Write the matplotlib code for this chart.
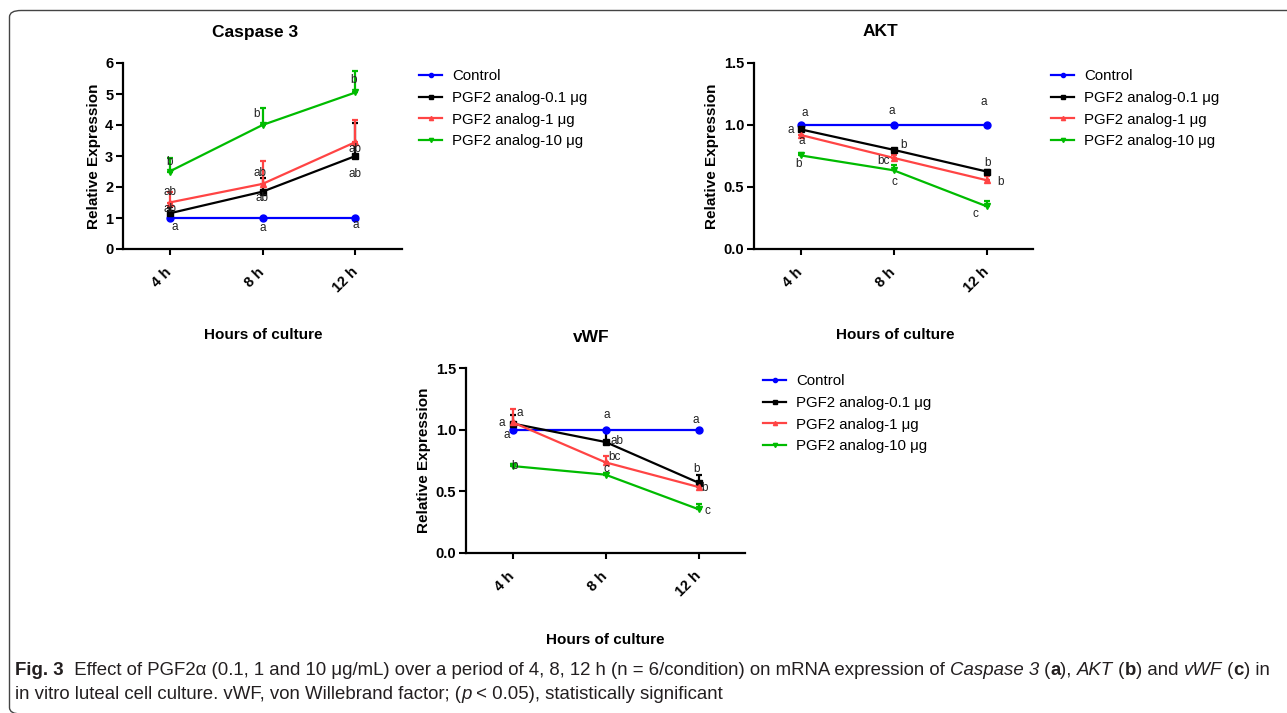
import matplotlib
matplotlib.use("Agg")
import matplotlib.pyplot as plt
from matplotlib.patches import FancyBboxPatch
from matplotlib.lines import Line2D

plt.rcParams['font.family'] = ['Liberation Sans', 'DejaVu Sans']

# ---------------- data ----------------
times = ['4 h', '8 h', '12 h']
series_names = ['Control', 'PGF2 analog-0.1 μg', 'PGF2 analog-1 μg', 'PGF2 analog-10 μg']

casp_ctrl = [1.0, 1.0, 1.0]
casp_01 = [1.15, 1.85, 3.0]
casp_1 = [1.5, 2.1, 3.45]
casp_10 = [2.5, 4.0, 5.05]
casp_ctrl_err = [0.0, 0.0, 0.0]
casp_01_err = [0.2, 0.45, 1.05]
casp_1_err = [0.35, 0.75, 0.7]
casp_10_err = [0.45, 0.55, 0.7]

akt_ctrl = [1.0, 1.0, 1.0]
akt_01 = [0.965, 0.80, 0.625]
akt_1 = [0.92, 0.735, 0.555]
akt_10 = [0.755, 0.635, 0.345]
akt_ctrl_err = [0.0, 0.0, 0.0]
akt_01_err = [0.035, 0.01, 0.015]
akt_1_err = [0.055, 0.025, 0.03]
akt_10_err = [0.02, 0.045, 0.04]

vwf_ctrl = [1.0, 1.0, 1.0]
vwf_01 = [1.05, 0.90, 0.57]
vwf_1 = [1.06, 0.735, 0.535]
vwf_10 = [0.705, 0.635, 0.355]
vwf_ctrl_err = [0.0, 0.0, 0.0]
vwf_01_err = [0.07, 0.09, 0.065]
vwf_1_err = [0.11, 0.055, 0.025]
vwf_10_err = [0.015, 0.015, 0.04]

# significance letters: (label, x position in category units, y value)
casp_letters = [('a', 0.06, 0.72), ('a', 1.0, 0.68), ('a', 2.0, 0.77),
                ('ab', 0.0, 1.29), ('ab', 0.0, 1.84), ('b', 0.0, 2.8),
                ('ab', 1.0, 1.65), ('ab', 0.97, 2.45), ('b', 0.94, 4.35),
                ('ab', 2.0, 2.42), ('ab', 2.0, 3.22), ('b', 1.98, 5.45)]
akt_letters = [('a', 0.05, 1.10), ('a', -0.11, 0.96), ('a', 0.01, 0.87), ('b', -0.02, 0.685),
               ('a', 0.98, 1.11), ('b', 1.11, 0.84), ('bc', 0.89, 0.71), ('c', 1.01, 0.54),
               ('a', 1.97, 1.185), ('b', 2.01, 0.695), ('b', 2.15, 0.54), ('c', 1.88, 0.28)]
vwf_letters = [('a', 0.08, 1.135), ('a', -0.12, 1.05), ('a', -0.06, 0.96), ('b', 0.02, 0.705),
               ('a', 1.01, 1.12), ('ab', 1.12, 0.91), ('bc', 1.1, 0.78), ('c', 1.01, 0.68),
               ('a', 1.97, 1.08), ('b', 1.98, 0.68), ('b', 2.07, 0.53), ('c', 2.1, 0.34)]

panels = [
    dict(title='Caspase 3', vals=[casp_ctrl, casp_01, casp_1, casp_10],
         errs=[casp_ctrl_err, casp_01_err, casp_1_err, casp_10_err],
         letters=casp_letters, ylim=(0, 6), yticks=[0, 1, 2, 3, 4, 5, 6], fmt='{:.0f}'),
    dict(title='AKT', vals=[akt_ctrl, akt_01, akt_1, akt_10],
         errs=[akt_ctrl_err, akt_01_err, akt_1_err, akt_10_err],
         letters=akt_letters, ylim=(0, 1.5), yticks=[0, 0.5, 1.0, 1.5], fmt='{:.1f}'),
    dict(title='vWF', vals=[vwf_ctrl, vwf_01, vwf_1, vwf_10],
         errs=[vwf_ctrl_err, vwf_01_err, vwf_1_err, vwf_10_err],
         letters=vwf_letters, ylim=(0, 1.5), yticks=[0, 0.5, 1.0, 1.5], fmt='{:.1f}'),
]

caption_line1 = [('Fig. 3', 'bold'), ('  Effect of PGF2α (0.1, 1 and 10 μg/mL) over a period of 4, 8, 12 h (n = 6/condition) on mRNA expression of ', 'normal'),
                 ('Caspase 3', 'italic'), (' (', 'normal'), ('a', 'bold'), ('), ', 'normal'),
                 ('AKT', 'italic'), (' (', 'normal'), ('b', 'bold'), (') and ', 'normal'),
                 ('vWF', 'italic'), (' (', 'normal'), ('c', 'bold'), (') in', 'normal')]
caption_line2 = [('in vitro luteal cell culture. vWF, von Willebrand factor; (', 'normal'), ('p', 'italic'),
                 (' < 0.05), statistically significant', 'normal')]

# ---------------- styles ----------------
colors = ['#0000ff', '#000000', '#ff4444', '#00bb00']
markers = ['o', 's', '^', 'v']

W, H = 1287, 713
fig = plt.figure(figsize=(W / 100, H / 100), dpi=100)

def px_rect(l, t, r, b):
    return [l / W, 1 - b / H, (r - l) / W, (b - t) / H]

rects = [px_rect(123, 63, 402, 249), px_rect(754, 63, 1033, 249), px_rect(466, 368, 745, 553)]
title_pos = [(255, 32), (880, 32), (591, 337)]
xlabel_pos = [(263, 335), (895, 335), (605, 640)]
legend_pos = [(419, 69), (1051, 69), (763, 374)]

for p, rect, tp, xp, lp in zip(panels, rects, title_pos, xlabel_pos, legend_pos):
    ax = fig.add_axes(rect)
    x = list(range(len(times)))
    for vals, errs, c, m in zip(p['vals'], p['errs'], colors, markers):
        ax.errorbar(x, vals, yerr=[[0] * len(errs), errs], color=c, marker=m, markersize=5,
                    lw=1.6, elinewidth=1.6, capsize=2.5, capthick=1.6, clip_on=False, zorder=3)
    for lab, lx, ly in p['letters']:
        ax.text(lx, ly, lab, fontsize=8.5, ha='center', va='center', color='#222222', zorder=4)
    ax.set_xlim(-0.5, 2.5)
    ax.set_ylim(*p['ylim'])
    ax.set_yticks(p['yticks'])
    ax.set_yticklabels([p['fmt'].format(v) for v in p['yticks']], fontweight='bold', fontsize=10.5)
    ax.set_xticks(x)
    ax.set_xticklabels(times, rotation=45, ha='right', va='center', rotation_mode='anchor',
                       fontweight='bold', fontsize=10.5)
    ax.tick_params(axis='x', length=4, width=1.5, pad=11)
    ax.tick_params(axis='y', length=5, width=1.5, pad=2)
    for s in ['top', 'right']:
        ax.spines[s].set_visible(False)
    for s in ['left', 'bottom']:
        ax.spines[s].set_linewidth(1.6)
    ax.set_ylabel('Relative Expression', fontweight='bold', fontsize=11, labelpad=3)
    fig.text(tp[0] / W, 1 - tp[1] / H, p['title'], fontweight='bold', fontsize=12.5,
             ha='center', va='center')
    fig.text(xp[0] / W, 1 - xp[1] / H, 'Hours of culture', fontweight='bold', fontsize=11,
             ha='center', va='center')
    handles = [Line2D([], [], color=c, marker=m, markersize=3, lw=1.6) for c, m in zip(colors, markers)]
    fig.legend(handles, series_names, loc='upper left', bbox_to_anchor=(lp[0] / W, 1 - lp[1] / H),
               frameon=False, fontsize=10.8, handlelength=1.55, handletextpad=0.65,
               labelspacing=0.52, borderpad=0, borderaxespad=0)

# rounded frame
frame = FancyBboxPatch((9.5 / W, (H - 714) / H), (1400 - 9.5) / W, (714 - 10.5) / H,
                       boxstyle='round,pad=0,rounding_size=0.009', transform=fig.transFigure,
                       fill=False, edgecolor='#444444', lw=1.0, clip_on=False)
fig.patches.append(frame)

# caption
cap_font = ['Liberation Sans Narrow', 'Liberation Sans', 'DejaVu Sans']
renderer = fig.canvas.get_renderer()

def draw_runs(runs, x0, ybase, size, draw=True):
    xcur = x0
    arts = []
    for txt, st in runs:
        kw = dict(fontsize=size, family=cap_font, color='#231f20', va='baseline', ha='left')
        if st == 'bold':
            kw['fontweight'] = 'bold'
        elif st == 'italic':
            kw['style'] = 'italic'
        t = fig.text(xcur / W, 1 - ybase / H, txt, **kw)
        bb = t.get_window_extent(renderer)
        xcur += bb.width
        arts.append(t)
    if not draw:
        for t in arts:
            t.remove()
    return xcur - x0

w10 = draw_runs(caption_line1, 15, 675, 10, draw=False)
size = 10 * (1278 - 15) / w10
draw_runs(caption_line1, 15, 675, size)
draw_runs(caption_line2, 15, 699, size)

fig.savefig('out.png', dpi=100)
